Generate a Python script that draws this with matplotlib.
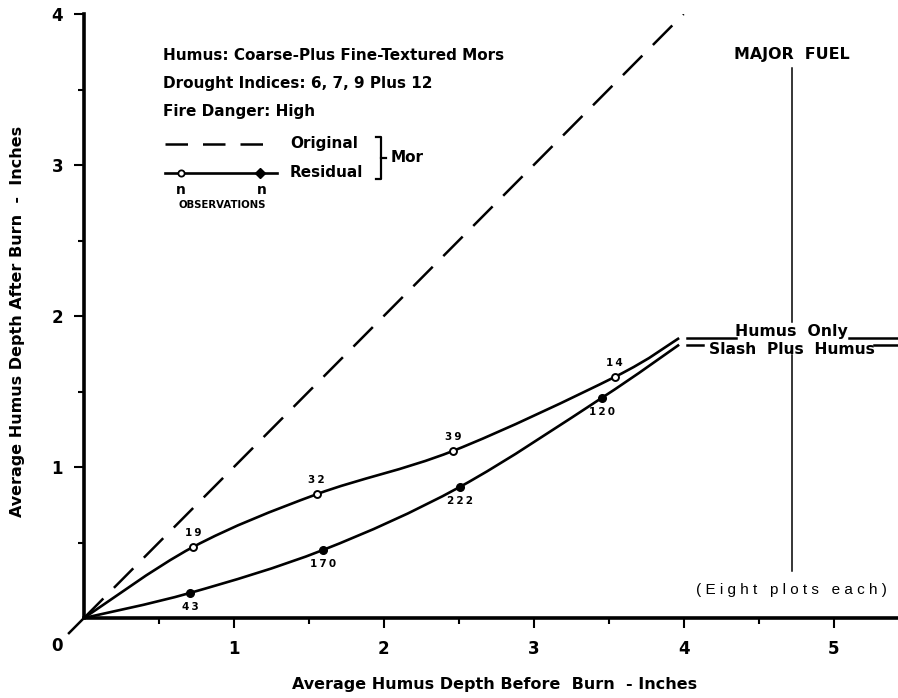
import matplotlib
matplotlib.use('Agg')
import matplotlib.pyplot as plt
from matplotlib.path import Path
from matplotlib.patches import PathPatch

plt.rcParams['font.family'] = ['DejaVu Sans']
plt.rcParams['font.weight'] = 'bold'

# curve knots (origin, observed means, end of curve)
humus_x = [0, 0.727, 1.553, 2.46, 3.54, 3.97]
humus_y = [0, 0.47, 0.82, 1.106, 1.596, 1.854]
slash_x = [0, 0.707, 1.593, 2.507, 3.453, 3.97]
slash_y = [0, 0.166, 0.45, 0.868, 1.457, 1.81]
humus_n = ['19', '32', '39', '14']
slash_n = ['43', '170', '222', '120']
orig_x = [0, 4]
orig_y = [0, 4]
xticks = [1, 2, 3, 4, 5]
yticks = [1, 2, 3, 4]


def smooth_path(xs, ys):
    # catmull-rom through the knots, drawn as cubic bezier segments
    pts = list(zip(xs, ys))
    verts = [pts[0]]
    codes = [Path.MOVETO]
    for i in range(len(pts) - 1):
        p0 = pts[i - 1] if i > 0 else pts[i]
        p1 = pts[i]
        p2 = pts[i + 1]
        p3 = pts[i + 2] if i + 2 < len(pts) else pts[i + 1]
        c1 = (p1[0] + (p2[0] - p0[0]) / 6, p1[1] + (p2[1] - p0[1]) / 6)
        c2 = (p2[0] - (p3[0] - p1[0]) / 6, p2[1] - (p3[1] - p1[1]) / 6)
        verts += [c1, c2, p2]
        codes += [Path.CURVE4] * 3
    return Path(verts, codes)


fig = plt.figure(figsize=(8.98, 6.98), dpi=100)
ax = fig.add_axes([0.0935, 0.1146, 0.9065, 0.8653])
ax.set_xlim(0, 5.43)
ax.set_ylim(0, 4)

for s in ['top', 'right']:
    ax.spines[s].set_visible(False)
for s in ['left', 'bottom']:
    ax.spines[s].set_linewidth(2.6)

ax.set_xticks(xticks)
ax.set_xticklabels([str(t) for t in xticks], fontsize=12)
ax.set_yticks(yticks)
ax.set_yticklabels([str(t) for t in yticks], fontsize=12)
ax.set_xticks([0.5, 1.5, 2.5, 3.5, 4.5], minor=True)
ax.set_yticks([0.5, 1.5, 2.5, 3.5], minor=True)
ax.tick_params(which='major', length=7, width=1.5, pad=9)
ax.tick_params(which='minor', length=4, width=1.5)
ax.tick_params(axis='y', which='major', pad=8)
ax.text(-0.18, -0.185, '0', fontsize=12, ha='center', va='center', clip_on=False)

# original mor depth
ax.plot(orig_x, orig_y, color='black', lw=1.8, dashes=(11, 6))
ax.plot([0, -0.1], [0, -0.1], color='black', lw=1.8, clip_on=False)

# residual curves
for xs, ys in [(humus_x, humus_y), (slash_x, slash_y)]:
    ax.add_patch(PathPatch(smooth_path(xs, ys), fill=False, lw=1.9,
                           edgecolor='black'))

ax.plot(humus_x[1:-1], humus_y[1:-1], 'o', ms=5, mfc='white', mec='black',
        mew=1.4, ls='none')
ax.plot(slash_x[1:-1], slash_y[1:-1], 'o', ms=5.5, color='black', ls='none')
for x, y, n in zip(humus_x[1:-1], humus_y[1:-1], humus_n):
    ax.text(x, y + 0.06, '\u2009'.join(n), fontsize=7.5, ha='center', va='bottom')
for x, y, n in zip(slash_x[1:-1], slash_y[1:-1], slash_n):
    ax.text(x, y - 0.06, '\u2009'.join(n), fontsize=7.5, ha='center', va='top')

# header text and key
ax.text(0.097, 0.932, 'Humus: Coarse-Plus Fine-Textured Mors', fontsize=11,
        transform=ax.transAxes, va='center')
ax.text(0.097, 0.885, 'Drought Indices: 6, 7, 9 Plus 12', fontsize=11,
        transform=ax.transAxes, va='center')
ax.text(0.097, 0.838, 'Fire Danger: High', fontsize=11,
        transform=ax.transAxes, va='center')
ax.plot([0.0995, 0.236], [0.785, 0.785], color='black', lw=1.8, dashes=(9, 6),
        transform=ax.transAxes)
ax.plot([0.0995, 0.237], [0.737, 0.737], color='black', lw=1.9,
        transform=ax.transAxes)
ax.plot([0.119], [0.737], 'o', ms=4.5, mfc='white', mec='black', mew=1.3,
        transform=ax.transAxes)
ax.plot([0.216], [0.737], 'D', ms=5, color='black', transform=ax.transAxes)
ax.text(0.253, 0.786, 'Original', fontsize=11, transform=ax.transAxes, va='center')
ax.text(0.253, 0.737, 'Residual', fontsize=11, transform=ax.transAxes, va='center')
ax.plot([0.359, 0.365, 0.365, 0.359], [0.796, 0.796, 0.727, 0.727],
        color='black', lw=1.6, transform=ax.transAxes)
ax.plot([0.365, 0.371], [0.762, 0.762], color='black', lw=1.6,
        transform=ax.transAxes)
ax.text(0.377, 0.762, 'Mor', fontsize=11, transform=ax.transAxes, va='center')
ax.text(0.119, 0.709, 'n', fontsize=10, transform=ax.transAxes,
        ha='center', va='center')
ax.text(0.219, 0.709, 'n', fontsize=10, transform=ax.transAxes,
        ha='center', va='center')
ax.text(0.17, 0.683, 'OBSERVATIONS', fontsize=7.3, transform=ax.transAxes,
        ha='center', va='center')

# major fuel key on the right
ax.text(4.72, 3.73, 'MAJOR  FUEL', fontsize=11.4, ha='center', va='center')
ax.plot([4.72, 4.72], [3.64, 1.96], color='black', lw=1.1)
ax.plot([4.72, 4.72], [1.74, 0.31], color='black', lw=1.1)
ax.text(4.72, 0.185, '( E i g h t   p l o t s   e a c h )', fontsize=11,
        fontweight='normal', family='Liberation Sans', ha='center', va='center')
ax.plot([4.02, 4.35], [1.854, 1.854], color='black', lw=1.8)
ax.plot([5.10, 5.43], [1.854, 1.854], color='black', lw=1.8)
ax.plot([4.02, 4.13], [1.81, 1.81], color='black', lw=1.8)
ax.plot([5.27, 5.43], [1.81, 1.81], color='black', lw=1.8)
ax.text(4.72, 1.845, 'Humus  Only', fontsize=11.3, ha='center', va='bottom')
ax.text(4.72, 1.83, 'Slash  Plus  Humus', fontsize=11.2, ha='center', va='top')

fig.text(0.551, 0.009, 'Average Humus Depth Before  Burn  - Inches',
         fontsize=11.5, ha='center', va='bottom')
fig.text(0.02, 0.54, 'Average Humus Depth After Burn  -  Inches',
         fontsize=11.5, ha='center', va='center', rotation=90)

fig.savefig('out.png', dpi=100)
